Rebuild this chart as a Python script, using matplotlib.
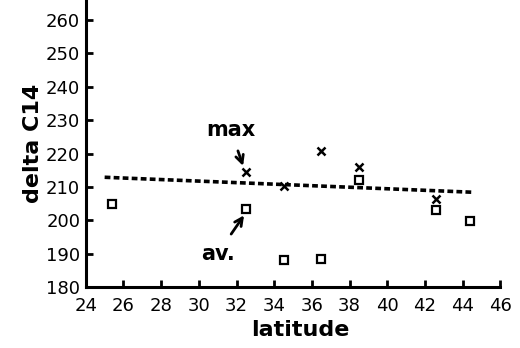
import numpy as np
import matplotlib
matplotlib.use('Agg')
import matplotlib.pyplot as plt

# average values (squares)
av_lat = [25.4, 32.5, 34.5, 36.5, 38.5, 42.6, 44.4]
av_c14 = [205.0, 203.3, 188.2, 188.3, 212.0, 203.0, 199.8]

# maximum values (crosses)
max_lat = [32.5, 34.5, 36.5, 38.5, 42.6]
max_c14 = [214.6, 210.4, 220.9, 216.1, 206.3]

# dotted trend line end points
trend_lat = [25.0, 44.6]
trend_c14 = [212.9, 208.4]

xticks = [24, 26, 28, 30, 32, 34, 36, 38, 40, 42, 44, 46]
yticks = [180, 190, 200, 210, 220, 230, 240, 250, 260]

fig = plt.figure(figsize=(5.2, 3.48), dpi=100)
ax = fig.add_axes([0.165, 0.175, 0.797, 0.825])

ax.plot(trend_lat, trend_c14, color='black', lw=2.6, linestyle=(0, (1.6, 0.9)))
ax.plot(av_lat, av_c14, 's', ms=6, mfc='white', mec='black', mew=1.6, ls='none')
ax.plot(max_lat, max_c14, 'x', ms=5.5, color='black', mew=1.8, ls='none')

ax.annotate('max', xy=(32.35, 216.3), xytext=(31.7, 227),
            ha='center', va='center', fontsize=15, fontweight='bold',
            arrowprops=dict(arrowstyle='->', lw=2, color='black',
                            shrinkA=6, shrinkB=0, mutation_scale=14))
ax.annotate('av.', xy=(32.4, 201.5), xytext=(31.0, 190.0),
            ha='center', va='center', fontsize=15, fontweight='bold',
            arrowprops=dict(arrowstyle='->', lw=2, color='black',
                            shrinkA=6, shrinkB=0, mutation_scale=14))

ax.set_xlim(24, 46)
ax.set_ylim(180, 266)
ax.set_xticks(xticks)
ax.set_yticks(yticks)
ax.tick_params(direction='in', length=5, width=2, labelsize=13)
ax.tick_params(axis='x', pad=7)
ax.tick_params(axis='y', pad=4)
for s in ['top', 'right']:
    ax.spines[s].set_visible(False)
for s in ['left', 'bottom']:
    ax.spines[s].set_linewidth(2.2)

ax.set_xlabel('latitude', fontsize=16, fontweight='bold')
ax.set_ylabel('delta C14', fontsize=16, fontweight='bold', labelpad=2)
ax.xaxis.set_label_coords(0.517, -0.115)

fig.savefig('out.png', dpi=100)
